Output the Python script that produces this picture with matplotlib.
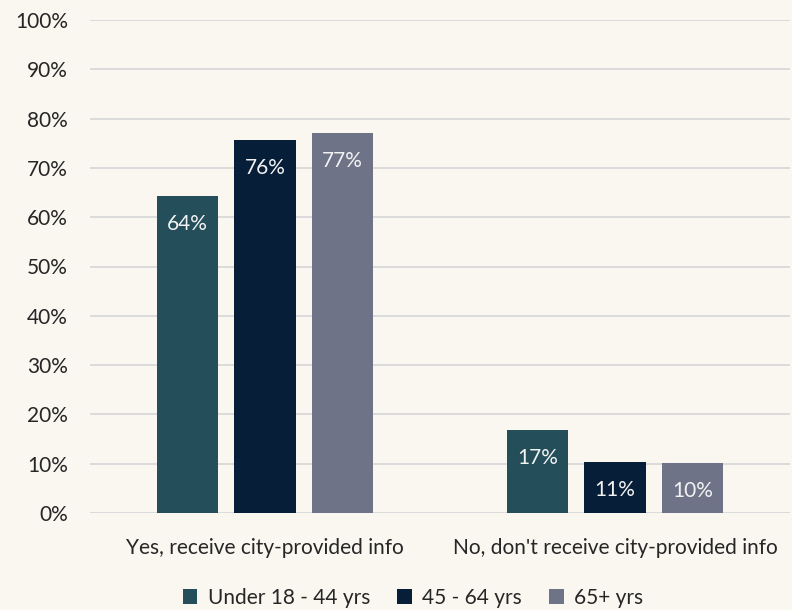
import matplotlib
matplotlib.use('Agg')
import matplotlib.pyplot as plt
import numpy as np

### Data
categories = ["Yes, receive city-provided info", "No, don't receive city-provided info"]
series = ["Under 18 - 44 yrs", "45 - 64 yrs", "65+ yrs"]
values = [[64.3, 16.8],
          [75.7, 10.4],
          [77.1, 10.1]]
labels = [["64%", "17%"],
          ["76%", "11%"],
          ["77%", "10%"]]
colors = ["#234E5A", "#061E37", "#6E7387"]
###

plt.rcParams['font.family'] = ['Lato', 'DejaVu Sans']
bg = "#FAF7F0"
fs = 15

fig = plt.figure(figsize=(7.92, 6.10), dpi=100, facecolor=bg)
ax = fig.add_axes([90/792, 1 - 513/610, 700/792, 493/610])
ax.set_facecolor(bg)

x = np.arange(len(categories))
width = 0.175
step = 0.222
for i in range(len(series)):
    pos = x + (i - 1) * step
    bars = ax.bar(pos, values[i], width, color=colors[i], label=series[i], zorder=3)
    for b, txt in zip(bars, labels[i]):
        ax.text(b.get_x() + b.get_width()/2, b.get_height() - 5.7, txt,
                ha='center', va='center', color='#F2F2F2', fontsize=fs, zorder=4)

ax.set_xlim(-0.5, 1.5)
ax.set_ylim(0, 100)
ax.set_yticks(np.arange(0, 101, 10))
ax.set_yticklabels([str(v) + "%" for v in range(0, 101, 10)])
ax.set_xticks(x)
ax.set_xticklabels(categories)
ax.yaxis.grid(True, color='#D9D9D9', linewidth=1.3, zorder=0)
for s in ax.spines.values():
    s.set_visible(False)
ax.tick_params(axis='both', length=0, labelsize=fs, colors='#262626')
ax.tick_params(axis='y', pad=16)
ax.tick_params(axis='x', pad=18)

ax.legend(loc='center', bbox_to_anchor=((413 - 90) / 700, -0.172), ncol=3, frameon=False,
          fontsize=fs, handlelength=0.7, handleheight=0.7, columnspacing=1.3,
          handletextpad=0.5, labelcolor='#262626')

plt.savefig("out.png", dpi=100, facecolor=bg)
